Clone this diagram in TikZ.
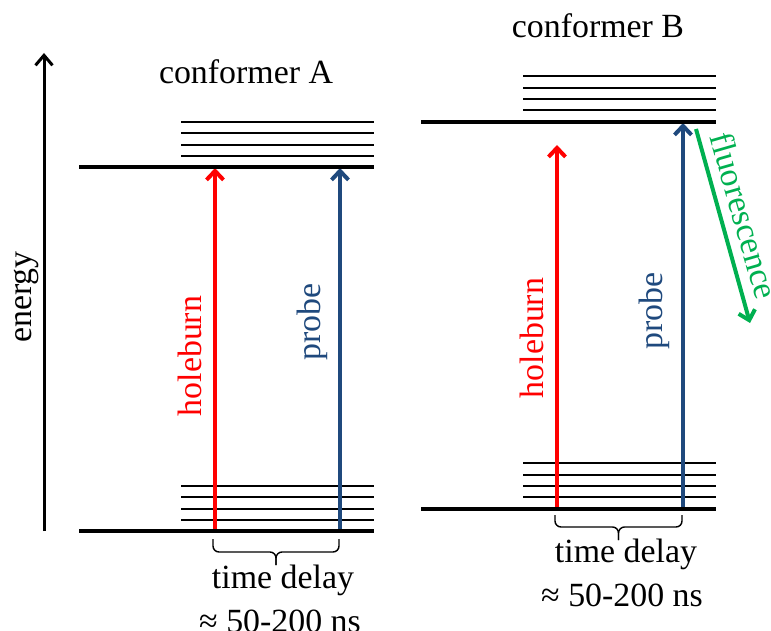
\documentclass[tikz,border=0pt]{standalone}
\usepackage{fontspec}
\setmainfont{Liberation Serif}
\usetikzlibrary{arrows.meta}
\definecolor{hbred}{RGB}{255,0,0}
\definecolor{prblue}{RGB}{31,73,125}
\definecolor{flgreen}{RGB}{0,176,80}
\begin{document}
\begin{tikzpicture}[x=1bp,y=-1bp,
  every node/.style={font=\fontsize{34}{40}\selectfont, inner sep=0pt},
  level/.style={line width=4.3bp},
  vib/.style={line width=1.8bp},
  barb/.style={-{Straight Barb[length=9bp,width=17bp]}},
  axisarrow/.style={line width=3bp, -{Straight Barb[length=10bp,width=17bp]}},
  hbarrow/.style={draw=hbred, line width=4bp, barb},
  prarrow/.style={draw=prblue, line width=4bp, barb},
  flarrow/.style={draw=flgreen, line width=4bp, barb},
  delaybrace/.style={line width=1.4bp, rounded corners=6bp},
  vtext/.style={rotate=90, anchor=base}]
\useasboundingbox (0,0) rectangle (771,631);

% energy axis
\coordinate (ax0) at (44,531);
\coordinate (ax1) at (44,53);
\draw[axisarrow] (ax0) -- (ax1);
\node[vtext] (energy) at (31,297) {energy};

% ---------- conformer A ----------
\node[anchor=base] (confA) at (246,84) {conformer A};
\coordinate (A0l) at (79,531);  \coordinate (A0r) at (374,531);
\coordinate (A1l) at (79,167);  \coordinate (A1r) at (374,167);
\foreach \y in {122,133,145,156} \draw[vib] (181,\y) -- (374,\y);
\foreach \y in {486,497,509,520} \draw[vib] (181,\y) -- (374,\y);
\coordinate (hA0) at (215,531); \coordinate (hA1) at (215,168);
\coordinate (pA0) at (340,531); \coordinate (pA1) at (340,168);
\draw[hbarrow] (hA0) -- (hA1);
\draw[prarrow] (pA0) -- (pA1);
\draw[level] (A0l) -- (A0r);
\draw[level] (A1l) -- (A1r);
\node[vtext, text=hbred] (hbA) at (201,356) {holeburn};
\node[vtext, text=prblue] (prA) at (320,322) {probe};
\coordinate (brA0) at (213,539); \coordinate (brA1) at (339,539);
\coordinate (brAm) at (276,552); \coordinate (brAt) at (276,565);
\draw[delaybrace] (brA0) |- (brAm) -- (brAt);
\draw[delaybrace] (brAt) -- (brAm) -| (brA1);
\node[anchor=base] (tdA) at (283,588) {time delay};
\node[anchor=base] (nsA) at (280,632) {≈ 50-200 ns};

% ---------- conformer B ----------
\node[anchor=base] (confB) at (598,38) {conformer B};
\coordinate (B0l) at (421,509);  \coordinate (B0r) at (716,509);
\coordinate (B1l) at (421,122);  \coordinate (B1r) at (716,122);
\foreach \y in {76,88,99,110} \draw[vib] (523,\y) -- (716,\y);
\foreach \y in {463,475,486,497} \draw[vib] (523,\y) -- (716,\y);
\coordinate (hB0) at (557,509); \coordinate (hB1) at (557,145);
\coordinate (pB0) at (683,509); \coordinate (pB1) at (683,123);
\draw[hbarrow] (hB0) -- (hB1);
\draw[prarrow] (pB0) -- (pB1);
\draw[level] (B0l) -- (B0r);
\draw[level] (B1l) -- (B1r);
\node[vtext, text=hbred] (hbB) at (543,338) {holeburn};
\node[vtext, text=prblue] (prB) at (662,311) {probe};
\coordinate (fl0) at (696,129); \coordinate (fl1) at (750,323);
\draw[flarrow] (fl0) -- (fl1);
\node[rotate=-74, anchor=base, text=flgreen] (flB) at (733,219) {fluorescence};
\coordinate (brB0) at (555,515); \coordinate (brB1) at (682,515);
\coordinate (brBm) at (618.5,527); \coordinate (brBt) at (618.5,540);
\draw[delaybrace] (brB0) |- (brBm) -- (brBt);
\draw[delaybrace] (brBt) -- (brBm) -| (brB1);
\node[anchor=base] (tdB) at (626,562) {time delay};
\node[anchor=base] (nsB) at (622,606) {≈ 50-200 ns};
\end{tikzpicture}
\end{document}
